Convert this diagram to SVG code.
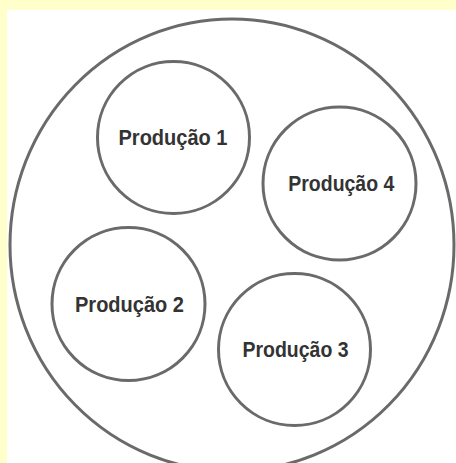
<svg xmlns="http://www.w3.org/2000/svg" width="456" height="463" viewBox="0 0 456 463">
<style>
.ring{fill:none;stroke:#6a6a6a;stroke-width:3}
.lbl{font-family:"Liberation Sans",Arial,sans-serif;font-weight:bold;font-size:22.5px;fill:#333;text-anchor:middle}
</style>
<rect x="0" y="0" width="456" height="463" fill="#ffffcc"/>
<rect x="7" y="10" width="449" height="453" fill="#ffffff"/>
<g id="outer">
<ellipse class="ring" cx="232" cy="245" rx="222" ry="226"/>
</g>
<g id="p1">
<circle class="ring" cx="173.5" cy="137.5" r="76"/>
<text class="lbl" x="173" y="145" textLength="109" lengthAdjust="spacingAndGlyphs">Produção 1</text>
</g>
<g id="p4">
<circle class="ring" cx="339.5" cy="183.5" r="76.5"/>
<text class="lbl" x="341.3" y="190.5" textLength="106" lengthAdjust="spacingAndGlyphs">Produção 4</text>
</g>
<g id="p2">
<circle class="ring" cx="128.5" cy="304" r="76.5"/>
<text class="lbl" x="129.5" y="312" textLength="109" lengthAdjust="spacingAndGlyphs">Produção 2</text>
</g>
<g id="p3">
<circle class="ring" cx="294.5" cy="349.5" r="76"/>
<text class="lbl" x="295.5" y="357" textLength="106" lengthAdjust="spacingAndGlyphs">Produção 3</text>
</g>
<g id="connectors"/>
</svg>
